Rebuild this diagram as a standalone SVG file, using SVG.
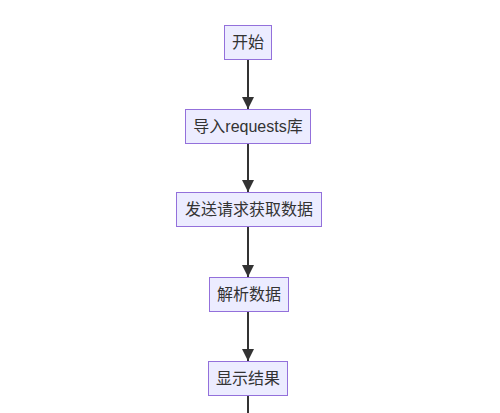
<svg xmlns="http://www.w3.org/2000/svg" width="500" height="413" viewBox="0 0 500 413">
<defs>
<style>
.node rect{fill:#ECECFF;stroke:#9370DB;stroke-width:1}
.node text{font-family:"Liberation Sans","Noto Sans CJK SC",sans-serif;font-size:16px;fill:#333;text-anchor:middle;dominant-baseline:central}
.edge{stroke:#333;stroke-width:2;fill:none}
</style>
<marker id="arrow" viewBox="0 0 12 12" refX="12" refY="6" markerUnits="userSpaceOnUse" markerWidth="12" markerHeight="12" orient="auto">
<path d="M0,0 L12,6 L0,12 z" fill="#333"/>
</marker>
</defs>
<rect width="500" height="413" fill="#fff"/>
<g id="connectors">
<line class="edge" x1="248" y1="59" x2="248" y2="109" marker-end="url(#arrow)"/>
<line class="edge" x1="248" y1="143" x2="248" y2="192" marker-end="url(#arrow)"/>
<line class="edge" x1="248" y1="227" x2="248" y2="277" marker-end="url(#arrow)"/>
<line class="edge" x1="248" y1="311" x2="248" y2="361" marker-end="url(#arrow)"/>
<line class="edge" x1="248" y1="395" x2="248" y2="413"/>
</g>
<g id="start" class="node"><rect x="224.5" y="25.5" width="47" height="34"/><text x="248" y="42.5">开始</text></g>
<g id="import" class="node"><rect x="185.5" y="109.5" width="125" height="34"/><text x="248" y="126.5">导入requests库</text></g>
<g id="request" class="node"><rect x="176.5" y="192.5" width="145" height="34"/><text x="249" y="209.5">发送请求获取数据</text></g>
<g id="parse" class="node"><rect x="209.5" y="277.5" width="79" height="34"/><text x="249" y="294.5">解析数据</text></g>
<g id="show" class="node"><rect x="208.5" y="361.5" width="79" height="34"/><text x="248" y="378.5">显示结果</text></g>
</svg>
